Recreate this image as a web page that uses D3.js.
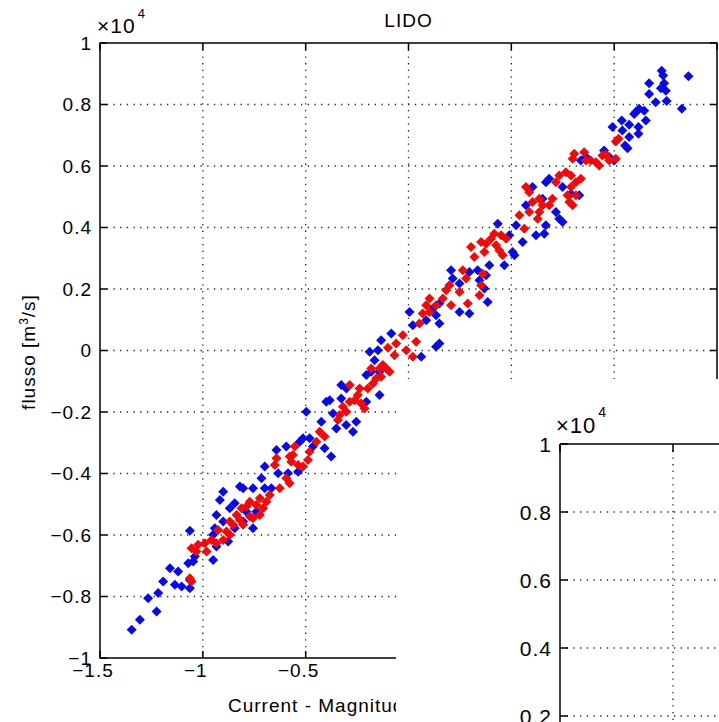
<!DOCTYPE html>
<html>
<head>
<meta charset="utf-8">
<script src="https://cdn.jsdelivr.net/npm/d3@7"></script>
<style>
  body { margin: 0; background: #fff; }
  svg text { font-family: "Liberation Sans", Arial, sans-serif; fill: #000; }
</style>
</head>
<body>
<div id="chart"></div>
<script>
// tick values
var xTicks = [-1.5, -1, -0.5, 0, 0.5, 1, 1.5];
var yTicks = [-10000, -8000, -6000, -4000, -2000, 0, 2000, 4000, 6000, 8000, 10000];
var y2Ticks = [0, 2000, 4000, 6000, 8000, 10000];

// blue series [current, flusso]
var bluePoints = [
  [1.231,9100],[1.238,8940],[1.361,8920],[1.170,8690],[1.243,8690],[1.227,8530],[1.251,8450],[1.170,8345],
  [1.202,8075],[1.255,8110],[1.329,7860],[1.121,7860],[1.146,7800],[1.105,7750],[1.097,7695],[1.154,7480],
  [1.037,7480],[1.073,7340],[0.992,7265],[1.040,7155],[1.118,7265],[1.073,6940],[1.118,7045],[1.053,6665],
  [1.065,6580],[0.951,6505],[0.976,6290],[1.000,6180],
  [0.863,6290],[0.838,6180],[0.684,5585],[0.668,5475],[0.603,5315],[0.749,5315],[0.790,5100],[0.830,5045],
  [0.571,4720],[0.652,4935],[0.717,4505],[0.733,4285],[0.523,4070],[0.668,4070],[0.749,4180],
  [0.434,4125],[0.620,3745],[0.660,3800],[0.490,3745],[0.555,3530],[0.506,3205],[0.466,2770],[0.515,3095],
  [0.393,2770],[0.207,2610],[0.296,2555],[0.336,2610],[0.377,2445],[0.345,2285],[0.215,2340],[0.248,2175],
  [0.369,2015],[0.385,1580],[0.296,1200],[0.248,1255],[0.150,1525],[0.118,1365],[0.134,1145],[0.005,1255],
  [0.021,820],[0.150,875],[0.086,985],[0.134,120],[0.150,227],[0.062,-205],
  [-0.133,335],[-0.084,550],[-0.189,-42],[-0.149,10],[-0.165,-315],[-0.205,-800],[-0.181,-690],[-0.141,-690],
  [-0.327,-1125],[-0.302,-1235],[-0.383,-1615],[-0.400,-1665],[-0.327,-1560],[-0.141,-1450],[-0.205,-1665],
  [-0.367,-2045],[-0.497,-1990],
  [-0.424,-2315],[-0.351,-2535],[-0.303,-2425],[-0.254,-2315],[-0.270,-2640],[-0.376,-3450],[-0.408,-3180],
  [-0.465,-3125],[-0.513,-2855],[-0.529,-2965],[-0.481,-2855],[-0.594,-3125],[-0.642,-3235],[-0.699,-3775],
  [-0.634,-3995],[-0.586,-3995],[-0.537,-3940],[-0.715,-4155],[-0.820,-4425],[-0.804,-4480],[-0.756,-4480],
  [-0.699,-4480],[-0.667,-4480],[-0.901,-4590],[-0.917,-4860],[-0.845,-4970],[-0.869,-5130],[-0.788,-5240],
  [-0.740,-5240],[-0.934,-5350],[-0.942,-5780],[-0.901,-5565],[-0.804,-5565],[-0.756,-5780],[-0.845,-5780],
  [-0.950,-5995],
  [-1.063,-5865],[-1.039,-6700],[-1.071,-6915],[-0.950,-6810],[-1.160,-7080],[-1.120,-7185],[-1.193,-7510],
  [-1.136,-7620],[-1.103,-7675],[-1.063,-7730],[-1.063,-7460],[-1.217,-7890],[-1.266,-8055],[-1.225,-8485],
  [-1.306,-8755],[-1.346,-9080],[-0.934,-6375],[-0.877,-6210],[-1.047,-6860]
];

// red series [current, flusso]
var redPoints = [
  [1.008,6795],[1.021,6885],[0.943,6340],[0.960,6365],[0.911,6125],[0.886,6180],[0.927,6015],[1.008,6235],[0.976,6180],
  [0.806,6395],[0.798,6235],[0.854,6450],[0.863,6180],[0.765,5800],[0.790,5690],[0.733,5690],[0.717,5475],
  [0.814,5475],[0.838,5585],[0.790,5315],[0.773,5045],[0.814,5045],[0.571,5315],[0.587,5150],[0.636,4935],
  [0.603,4830],[0.652,4720],[0.636,4505],[0.684,4720],[0.700,4935],[0.782,4830],[0.798,4720],[0.587,4505],
  [0.628,4285],[0.539,4395],[0.563,3960],
  [0.304,3365],[0.320,3040],[0.353,3530],[0.377,3475],[0.401,3635],[0.426,3420],[0.442,3255],[0.458,3095],
  [0.474,3635],[0.450,3745],[0.417,3800],[0.369,3205],[0.264,2610],[0.280,2340],[0.361,2500],[0.353,2120],
  [0.345,1795],[0.199,2120],[0.183,1960],[0.248,1905],[0.288,1525],[0.207,1470],[0.167,1690],[0.102,1690],
  [0.086,1470],[0.134,1470],[0.069,1200],[0.053,875],[0.102,1255],
  [0.037,282],[-0.028,497],[-0.011,10],[0.021,-205],
  [-0.100,88],[-0.181,-585],[-0.141,-585],[-0.125,-475],[-0.108,-585],[-0.092,-690],[-0.133,-855],[-0.157,-910],
  [-0.173,-1070],[-0.198,-1235],[-0.238,-1235],[-0.246,-1450],[-0.262,-1615],[-0.286,-1665],[-0.230,-1720],
  [-0.286,-1125],[-0.319,-1830],[-0.214,-1885],[-0.335,-2100],[-0.302,-1990],[-0.060,225],[-0.068,-155],
  [-0.343,-2260],[-0.432,-2640],[-0.408,-2800],[-0.448,-2965],[-0.481,-3290],[-0.489,-3560],[-0.513,-3775],
  [-0.537,-3725],[-0.562,-3400],[-0.578,-3450],[-0.553,-3125],[-0.570,-3615],[-0.642,-3505],[-0.650,-3725],
  [-0.594,-4155],[-0.578,-4320],[-0.626,-4480],[-0.675,-4700],[-0.691,-4915],[-0.723,-4805],[-0.772,-4915],
  [-0.740,-5025],[-0.788,-5075],[-0.812,-5130],[-0.836,-5350],[-0.820,-5510],[-0.772,-5400],[-0.869,-5565],
  [-0.853,-5670],[-0.804,-5670],[-0.885,-5885],[-0.926,-5835],[-0.869,-5995],[-0.756,-5455],[-0.723,-5350],
  [-0.707,-5130],
  [-1.055,-6430],[-1.023,-6320],[-0.990,-6265],[-0.958,-6160],[-0.982,-6535],[-1.031,-6535],[-0.934,-6265],
  [-0.901,-6160],[-1.063,-7405],[-1.055,-7510]
];

document.addEventListener('DOMContentLoaded', function () {
  drawChart();
});

function fmt(v) {
  var s = String(Math.abs(v));
  return v < 0 ? "\u2212" + s : s;
}

function drawChart() {
  var W = 719, H = 722;

  var svg = d3.select("#chart")
              .append("svg")
              .attr("width", W)
              .attr("height", H);

  svg.append("rect").attr("width", W).attr("height", H).attr("fill", "#fff");

  //----- main axes -----
  var pLeft = 100, pRight = 717, pTop = 43, pBottom = 658;

  var x = d3.scaleLinear().domain([-1.5, 1.5]).range([pLeft, pRight]);
  var y = d3.scaleLinear().domain([-10000, 10000]).range([pBottom, pTop]);

  var grid = svg.append("g").attr("class", "grid");

  grid.selectAll(".vg")
      .data(xTicks.slice(1, -1))
      .enter()
      .append("line")
      .attr("x1", function (d) { return x(d); })
      .attr("x2", function (d) { return x(d); })
      .attr("y1", pTop)
      .attr("y2", pBottom)
      .attr("stroke", "#222")
      .attr("stroke-width", 1.3)
      .attr("stroke-dasharray", "1.3,5.4");

  grid.selectAll(".hg")
      .data(yTicks.slice(1, -1))
      .enter()
      .append("line")
      .attr("x1", pLeft)
      .attr("x2", pRight)
      .attr("y1", function (d) { return y(d); })
      .attr("y2", function (d) { return y(d); })
      .attr("stroke", "#222")
      .attr("stroke-width", 1.3)
      .attr("stroke-dasharray", "1.3,5.4");

  // diamond marker like matlab 'd'
  var r = 5;
  var diamond = "M0," + (-r) + "L" + r + ",0L0," + r + "L" + (-r) + ",0Z";

  svg.append("g")
     .selectAll("path")
     .data(bluePoints)
     .enter()
     .append("path")
     .attr("d", diamond)
     .attr("transform", function (d) { return "translate(" + x(d[0]) + "," + y(d[1]) + ")"; })
     .attr("fill", "#0a0ae6");

  svg.append("g")
     .selectAll("path")
     .data(redPoints)
     .enter()
     .append("path")
     .attr("d", diamond)
     .attr("transform", function (d) { return "translate(" + x(d[0]) + "," + y(d[1]) + ")"; })
     .attr("fill", "#f00a0a");

  // box
  svg.append("rect")
     .attr("x", pLeft).attr("y", pTop)
     .attr("width", pRight - pLeft).attr("height", pBottom - pTop)
     .attr("fill", "none")
     .attr("stroke", "#000")
     .attr("stroke-width", 1.5);

  // inward ticks, all four sides
  var tl = 7;
  var tickG = svg.append("g").attr("stroke", "#000").attr("stroke-width", 1.5);
  xTicks.forEach(function (d) {
    tickG.append("line").attr("x1", x(d)).attr("x2", x(d)).attr("y1", pBottom).attr("y2", pBottom - tl);
    tickG.append("line").attr("x1", x(d)).attr("x2", x(d)).attr("y1", pTop).attr("y2", pTop + tl);
  });
  yTicks.forEach(function (d) {
    tickG.append("line").attr("x1", pLeft).attr("x2", pLeft + tl).attr("y1", y(d)).attr("y2", y(d));
    tickG.append("line").attr("x1", pRight).attr("x2", pRight - tl).attr("y1", y(d)).attr("y2", y(d));
  });

  // tick labels
  svg.append("g")
     .selectAll("text")
     .data(yTicks)
     .enter()
     .append("text")
     .attr("x", pLeft - 8)
     .attr("y", function (d) { return y(d); })
     .attr("dy", "0.36em")
     .attr("text-anchor", "end")
     .style("font-size", "19px")
     .style("letter-spacing", "1px")
     .text(function (d) { return fmt(d / 10000); });

  svg.append("g")
     .selectAll("text")
     .data(xTicks)
     .enter()
     .append("text")
     .attr("x", function (d) { return x(d) + (d < 0 ? -7 : 0); })
     .attr("y", pBottom + 19)
     .attr("text-anchor", "middle")
     .style("font-size", "19px")
     .style("letter-spacing", "1px")
     .text(function (d) { return fmt(d); });

  // exponent
  var ex = svg.append("text").attr("x", 97).attr("y", 33).style("font-size", "21px").style("letter-spacing", "1px");
  ex.append("tspan").text("\u00d710");
  ex.append("tspan").attr("dy", -15).attr("dx", 2).style("font-size", "13px").text("4");

  // title
  svg.append("text")
     .attr("x", (pLeft + pRight) / 2)
     .attr("y", 27)
     .attr("text-anchor", "middle")
     .style("font-size", "19px")
     .style("letter-spacing", "1px")
     .text("LIDO");

  // y label
  var yl = svg.append("text")
              .attr("transform", "translate(35,352) rotate(-90)")
              .attr("text-anchor", "middle")
              .style("font-size", "19px")
              .style("letter-spacing", "1px");
  yl.append("tspan").text("flusso [m");
  yl.append("tspan").attr("dy", -7).style("font-size", "12px").text("3");
  yl.append("tspan").attr("dy", 7).text("/s]");

  // x label
  svg.append("text")
     .attr("x", 228)
     .attr("y", 712)
     .style("font-size", "19px")
     .style("letter-spacing", "1px")
     .text("Current - Magnitude [m/s]");

  //----- second figure lying over the corner -----
  var fig2 = svg.append("g");
  fig2.append("rect")
      .attr("x", 396).attr("y", 379)
      .attr("width", W - 396).attr("height", H - 379)
      .attr("fill", "#fff");

  var left2 = 560, top2 = 444, bottom2 = 784;
  var x2 = d3.scaleLinear().domain([-1.5, 1.5]).range([left2, left2 + 678]);
  var y2 = d3.scaleLinear().domain([0, 10000]).range([bottom2, top2]);

  fig2.selectAll(".vg2")
      .data(xTicks.slice(1, -1))
      .enter()
      .append("line")
      .attr("x1", function (d) { return x2(d); })
      .attr("x2", function (d) { return x2(d); })
      .attr("y1", top2)
      .attr("y2", bottom2)
      .attr("stroke", "#222")
      .attr("stroke-width", 1.3)
      .attr("stroke-dasharray", "1.3,5.4");

  fig2.selectAll(".hg2")
      .data(y2Ticks.slice(1, -1))
      .enter()
      .append("line")
      .attr("x1", left2)
      .attr("x2", left2 + 678)
      .attr("y1", function (d) { return y2(d); })
      .attr("y2", function (d) { return y2(d); })
      .attr("stroke", "#222")
      .attr("stroke-width", 1.3)
      .attr("stroke-dasharray", "1.3,5.4");

  fig2.append("line").attr("x1", left2).attr("x2", left2).attr("y1", top2).attr("y2", H)
      .attr("stroke", "#000").attr("stroke-width", 1.5);
  fig2.append("line").attr("x1", left2).attr("x2", W).attr("y1", top2).attr("y2", top2)
      .attr("stroke", "#000").attr("stroke-width", 1.5);

  var tick2 = fig2.append("g").attr("stroke", "#000").attr("stroke-width", 1.5);
  xTicks.forEach(function (d) {
    tick2.append("line").attr("x1", x2(d)).attr("x2", x2(d)).attr("y1", top2).attr("y2", top2 + 8);
  });
  y2Ticks.forEach(function (d) {
    tick2.append("line").attr("x1", left2).attr("x2", left2 + 8).attr("y1", y2(d)).attr("y2", y2(d));
  });

  fig2.append("g")
      .selectAll("text")
      .data(y2Ticks)
      .enter()
      .append("text")
      .attr("x", left2 - 8)
      .attr("y", function (d) { return y2(d); })
      .attr("dy", "0.36em")
      .attr("text-anchor", "end")
      .style("font-size", "21px")
      .style("letter-spacing", "1px")
      .text(function (d) { return fmt(d / 10000); });

  var ex2 = fig2.append("text").attr("x", 556).attr("y", 433).style("font-size", "22px").style("letter-spacing", "1px");
  ex2.append("tspan").text("\u00d710");
  ex2.append("tspan").attr("dy", -16).attr("dx", 2).style("font-size", "14px").text("4");
}
</script>
</body>
</html>
